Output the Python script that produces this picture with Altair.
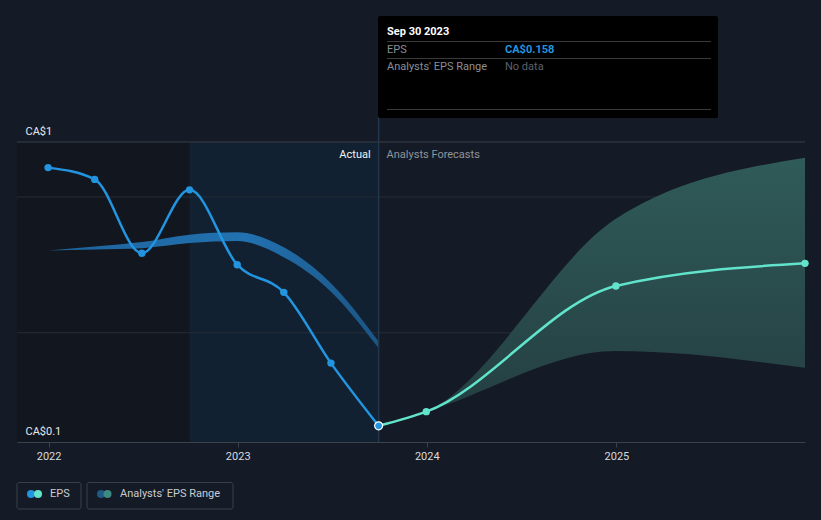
import altair as alt
import pandas as pd

# ---- data ----
eps_dates = ["2021-12-31", "2022-03-31", "2022-06-30", "2022-09-30",
             "2022-12-31", "2023-03-31", "2023-06-30", "2023-09-30"]
eps_values = [0.924, 0.889, 0.670, 0.858, 0.636, 0.554, 0.344, 0.158]
past_low = [0.678, 0.681, 0.685, 0.700, 0.706, 0.658, 0.556, 0.388]
past_high = [0.678, 0.690, 0.703, 0.725, 0.732, 0.688, 0.581, 0.408]

fc_dates = ["2023-09-30", "2023-12-31", "2024-12-31", "2025-12-31"]
fc_values = [0.158, 0.200, 0.573, 0.640]
fc_low = [0.158, 0.200, 0.380, 0.330]
fc_high = [0.158, 0.200, 0.772, 0.953]

grid_values = [0.837, 0.434]
top_line = [1.0]
region_starts = ["2021-11-01", "2022-09-30"]
region_ends = ["2022-09-30", "2023-09-30"]
region_colors = ["#12161e", "#112131"]
now_date = ["2023-09-30"]

x_domain = ["2021-11-01", "2025-12-31"]
y_domain = [0.11, 1.0]
y_label_values = [0.11, 1.0]

W, H = 788, 300
BG = "#151b26"
BLUE = "#2394df"
TEAL = "#62e3cb"

eps_df = pd.DataFrame({"date": eps_dates, "eps": eps_values, "low": past_low, "high": past_high})
fc_df = pd.DataFrame({"date": fc_dates, "eps": fc_values, "low": fc_low, "high": fc_high})
reg_df = pd.DataFrame({"start": region_starts, "end": region_ends, "color": region_colors})
grid_df = pd.DataFrame({"v": grid_values})
top_df = pd.DataFrame({"v": top_line})
now_df = pd.DataFrame({"date": now_date, "eps": [eps_values[-1]]})
one = pd.DataFrame({"a": [0]})

xs = alt.Scale(domain=x_domain)
ys = alt.Scale(domain=y_domain, nice=False, zero=False)

x_axis = alt.Axis(
    values=[alt.DateTime(year=y, month=1, date=1) for y in [2022, 2023, 2024, 2025]],
    format="%Y", labelColor="#d8dadd", labelFontSize=11, tickColor="#3c424c",
    tickSize=5, domainColor="#3c424c", labelPadding=3, grid=False, title=None, zindex=1)
y_axis = alt.Axis(
    values=y_label_values,
    labelExpr="datum.value >= 1 ? 'CA$1' : 'CA$0.1'",
    labelAlign="left", labelBaseline="bottom", labelPadding=-8, labelOffset=-6,
    ticks=False, tickSize=0, domain=False, grid=False, labelColor="#e6e8ea",
    labelFontSize=11, title=None, zindex=1)


def X(field):
    return alt.X(field, scale=xs, axis=x_axis)


def Y(field):
    return alt.Y(field, scale=ys, axis=y_axis)


regions = alt.Chart(reg_df).mark_rect().encode(
    x=X("start:T"), x2="end:T",
    y=alt.value(0), y2=alt.value(H),
    color=alt.Color("color:N", scale=None))

grid = alt.Chart(grid_df).mark_rule(color="#272d38", strokeWidth=1).encode(
    y=Y("v:Q"), x=alt.value(0), x2=alt.value(W))
top = alt.Chart(top_df).mark_rule(color="#3a3f49", strokeWidth=1).encode(
    y=Y("v:Q"), x=alt.value(0), x2=alt.value(W))

past_band = alt.Chart(eps_df).mark_area(
    interpolate="monotone",
    color=alt.Gradient(gradient="linear", x1=0, x2=1, y1=0, y2=0,
                       stops=[alt.GradientStop(color="#1d639b", offset=0),
                              alt.GradientStop(color="#2271b0", offset=0.6),
                              alt.GradientStop(color="#1b5584", offset=1)])).encode(
    x=X("date:T"), y=Y("low:Q"), y2="high:Q")

fc_band = alt.Chart(fc_df).mark_area(
    interpolate="monotone",
    color=alt.Gradient(gradient="linear", x1=0, x2=0, y1=0, y2=1,
                       stops=[alt.GradientStop(color="#2f5b58", offset=0),
                              alt.GradientStop(color="#243d41", offset=1)])).encode(
    x=X("date:T"), y=Y("low:Q"), y2="high:Q")

now_line = alt.Chart(now_df).mark_rule(color="#22364c", strokeWidth=1.5).encode(
    x=X("date:T"), y=alt.value(-26), y2=alt.value(H))

eps_line = alt.Chart(eps_df).mark_line(interpolate="monotone", color=BLUE, strokeWidth=2.5).encode(
    x=X("date:T"), y=Y("eps:Q"))
eps_pts = alt.Chart(eps_df.iloc[:-1]).mark_circle(color=BLUE, size=55, opacity=1).encode(
    x=X("date:T"), y=Y("eps:Q"))

fc_line = alt.Chart(fc_df).mark_line(interpolate="monotone", color=TEAL, strokeWidth=2.5).encode(
    x=X("date:T"), y=Y("eps:Q"))
fc_pts = alt.Chart(fc_df.iloc[1:]).mark_circle(color=TEAL, size=55, opacity=1).encode(
    x=X("date:T"), y=Y("eps:Q"))

now_pt = alt.Chart(now_df).mark_point(filled=True, fill=BLUE, stroke="#ffffff", strokeWidth=1.2,
                                      size=64, opacity=1).encode(
    x=X("date:T"), y=Y("eps:Q"))

actual_txt = alt.Chart(now_df).mark_text(text="Actual", align="right", dx=-8, baseline="middle",
                                         color="#f2f3f4", fontSize=11).encode(
    x=X("date:T"), y=alt.value(12.5))
fc_txt = alt.Chart(now_df).mark_text(text="Analysts Forecasts", align="left", dx=8, baseline="middle",
                                     color="#8f949b", fontSize=11).encode(
    x=X("date:T"), y=alt.value(12.5))


def txt(text, x, y, color, size=11, weight="normal", align="left"):
    return alt.Chart(one).mark_text(text=text, align=align, baseline="middle", color=color,
                                    fontSize=size, fontWeight=weight).encode(
        x=alt.value(x), y=alt.value(y))


def hline(x1, x2, y, color):
    return alt.Chart(one).mark_rule(color=color, strokeWidth=1).encode(
        x=alt.value(x1), x2=alt.value(x2), y=alt.value(y))


def box(x1, x2, y1, y2, fill=None, stroke=None):
    kw = {}
    if fill:
        kw["fill"] = fill
    else:
        kw["fillOpacity"] = 0
    if stroke:
        kw["stroke"] = stroke
        kw["strokeWidth"] = 1
    return alt.Chart(one).mark_rect(cornerRadius=2, **kw).encode(
        x=alt.value(x1), x2=alt.value(x2), y=alt.value(y1), y2=alt.value(y2))


def dot(x, y, color):
    return alt.Chart(one).mark_circle(color=color, size=64, opacity=1).encode(
        x=alt.value(x), y=alt.value(y))


tooltip = [
    box(361, 701, -126, -24, fill="#000000"),
    txt("Sep 30 2023", 370, -110, "#ffffff", weight="bold"),
    hline(370, 694, -100.5, "#3a3a3a"),
    txt("EPS", 370, -92, "#8a8f96"),
    txt("CA$0.158", 488, -92, BLUE, weight="bold"),
    hline(370, 694, -83.5, "#3a3a3a"),
    txt("Analysts' EPS Range", 370, -75, "#8a8f96"),
    txt("No data", 488, -75, "#5c6168"),
    hline(370, 694, -32.5, "#3a3a3a"),
]

legend = [
    box(0, 64, 340.5, 367, stroke="#3a404a"),
    box(70, 216, 340.5, 367, stroke="#3a404a"),
    dot(14, 352, BLUE), dot(21, 352, TEAL),
    txt("EPS", 33, 352, "#c9ccd1"),
    dot(84, 352, "#1d5a87"), dot(90.5, 352, "#3d8a82"),
    txt("Analysts' EPS Range", 103, 352, "#c9ccd1"),
]

chart = alt.layer(
    regions, grid, top, past_band, fc_band, now_line,
    eps_line, eps_pts, fc_line, fc_pts, now_pt, actual_txt, fc_txt,
    *tooltip, *legend
).properties(
    width=W, height=H,
    padding={"left": 17, "top": 142, "right": 16, "bottom": 78},
    autosize=alt.AutoSizeParams(type="none"),
    background=BG,
).configure(font="Roboto").configure_view(stroke=None)

chart.save("out.html", embed_options={"renderer": "svg", "actions": False})
